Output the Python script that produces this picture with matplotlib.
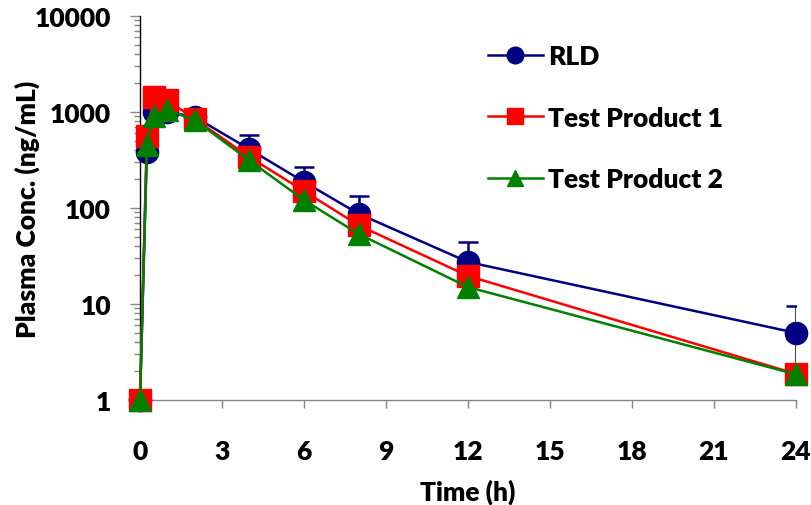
import numpy as np
import matplotlib
matplotlib.use('Agg')
import matplotlib.pyplot as plt
from matplotlib.ticker import LogLocator, FixedLocator, NullFormatter

plt.rcParams['font.family'] = ['Lato', 'DejaVu Sans']
plt.rcParams['font.weight'] = 'heavy'

# sampling times (h)
time = [0, 0.25, 0.5, 1, 2, 4, 6, 8, 12, 24]
# mean plasma concentrations (ng/mL)
rld = [1, 380, 1000, 1000, 890, 410, 187, 87, 27.4, 5.0]
rld_sd = [0, 150, 250, 250, 150, 170, 80, 46, 17, 4.5]
tp1 = [1, 560, 1450, 1330, 845, 340, 150, 66, 19.6, 1.87]
tp1_sd = [0, 100, 200, 200, 100, 80, 40, 20, 7, 2.5]
tp2 = [1, 450, 908, 1050, 826, 313, 121, 53.6, 15.0, 1.85]

xticks = [0, 3, 6, 9, 12, 15, 18, 21, 24]

fig = plt.figure(figsize=(8.12, 5.06), dpi=100)
ax = fig.add_axes([140/812, 1 - 401/506, 656/812, 384/506])

blue = '#000080'
red = '#ff0000'
green = '#008000'

# plus-only error bars
ax.errorbar(time, rld, yerr=[np.zeros(len(rld)), rld_sd], fmt='none',
            ecolor=blue, elinewidth=1.8, capsize=7.5, capthick=1.8, zorder=2)
ax.errorbar(time, tp1, yerr=[np.zeros(len(tp1)), tp1_sd], fmt='none',
            ecolor='#200000', elinewidth=1.8, capsize=7.5, capthick=1.8, zorder=2.5)

ax.plot(time, rld, color=blue, lw=1.8, marker='o', ms=16, mfc=blue, mec=blue,
        label='RLD', zorder=3, clip_on=False)
ax.plot(time, tp1, color=red, lw=1.8, marker='s', ms=16, mfc=red, mec=red,
        label='Test Product 1', zorder=4, clip_on=False)
ax.plot(time, tp2, color=green, lw=1.8, marker='^', ms=16, mfc=green, mec=green,
        label='Test Product 2', zorder=5, clip_on=False)

ax.set_yscale('log')
ax.set_ylim(1, 10000)
ax.set_xlim(0, 24)
ax.xaxis.set_major_locator(FixedLocator(xticks))
ax.set_xticklabels([str(t) for t in xticks])
ax.yaxis.set_minor_locator(LogLocator(base=10, subs=np.arange(2, 10)))
ax.yaxis.set_minor_formatter(NullFormatter())
ax.set_yticks([1, 10, 100, 1000, 10000])
ax.set_yticklabels(['1', '10', '100', '1000', '10000'])

for s in ['top', 'right']:
    ax.spines[s].set_visible(False)
ax.spines['left'].set_color('black')
ax.spines['bottom'].set_color('#868686')
ax.spines['left'].set_linewidth(1.0)
ax.spines['bottom'].set_linewidth(1.0)

ax.tick_params(axis='both', which='major', labelsize=19, colors='#868686',
               labelcolor='black', width=1.0)
ax.tick_params(axis='x', which='major', length=6, pad=22)
ax.tick_params(axis='y', which='major', length=7, pad=14)
ax.tick_params(axis='y', which='minor', length=4.5, width=1.0, colors='#868686')

ax.set_xlabel('Time (h)', fontsize=19, fontweight='heavy')
ax.set_ylabel('Plasma Conc. (ng/mL)', fontsize=19, fontweight='heavy')
ax.xaxis.set_label_coords(0.5, -0.205)
ax.yaxis.set_label_coords(-0.152, 0.5)

ax.legend(loc='upper left', bbox_to_anchor=(0.530, 0.927), frameon=False,
          fontsize=19, markerscale=0.75, handlelength=2.1, handletextpad=0.2,
          labelspacing=1.42, borderpad=0, borderaxespad=0)

fig.savefig('out.png', dpi=100)
